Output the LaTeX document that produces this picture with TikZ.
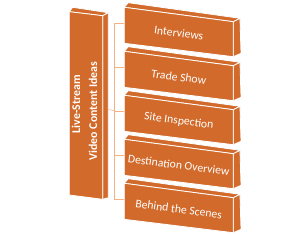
\documentclass[tikz,border=0pt]{standalone}
\usepackage{fontspec}
\setmainfont{Carlito}
\definecolor{boxfill}{RGB}{209,106,42}
\definecolor{linkc}{RGB}{244,177,131}
\begin{document}
\begin{tikzpicture}[x=1pt,y=-1pt,
 face/.style={fill=boxfill,draw=white,line width=0.8pt,line join=round},
 itemtext/.style={text=white,font=\fontsize{11.7}{13}\selectfont,rotate=-7.5,inner sep=0pt},
 headtext/.style={text=white,font=\bfseries\fontsize{11.8}{13}\selectfont,rotate=90,inner sep=0pt},
 link/.style={draw=linkc,line width=0.6pt}]
\useasboundingbox (0,0) rectangle (300,235);
% connectors
\coordinate (src) at (108.3,109.5);
\coordinate (hub) at (114,110.5);
\coordinate (jtop) at (114,23.3);
\coordinate (jbot) at (114,199.3);
\draw[link] (src) -- (hub);
\draw[link] (jtop) -- (jbot);
\foreach \i in {0,...,4}{
  \pgfmathsetmacro{\t}{7.3+44*\i}
  \coordinate (j\i) at (114,\t+16);
  \coordinate (b\i) at (124.3,\t+16);
  \draw[link] (j\i) -- (b\i);
}
% left box
\path[face] (69.3,11.7) -- (72.7,7.3) -- (108.3,12.7) -- (102.7,15.7) -- cycle;
\path[face] (102.7,15.7) -- (108.3,12.7) -- (108.3,197.7) -- (102.7,199.3) -- cycle;
\path[face] (69.3,11.7) -- (102.7,15.7) -- (102.7,199.3) -- (69.3,195) -- cycle;
\node[headtext] (head1) at (76,104) {Live-Stream};
\node[headtext] (head2) at (93,111) {Video Content Ideas};
% right boxes
\foreach \i/\txt in {0/Interviews,1/Trade Show,2/Site Inspection,3/Destination Overview,4/Behind the Scenes}{
  \pgfmathsetmacro{\t}{7.3+44*\i}
  \path[face] (124.3,\t) -- (128.3,\t-4.6) -- (240,\t+11) -- (233.3,\t+14.4) -- cycle;
  \path[face] (233.3,\t+14.4) -- (240,\t+11) -- (241,\t+46) -- (233.3,\t+49.4) -- cycle;
  \path[face] (124.3,\t) -- (233.3,\t+14.4) -- (233.3,\t+49.4) -- (124.3,\t+36) -- cycle;
  \node[itemtext] (item\i) at (178.8,\t+25.8) {\txt};
}
\end{tikzpicture}
\end{document}
